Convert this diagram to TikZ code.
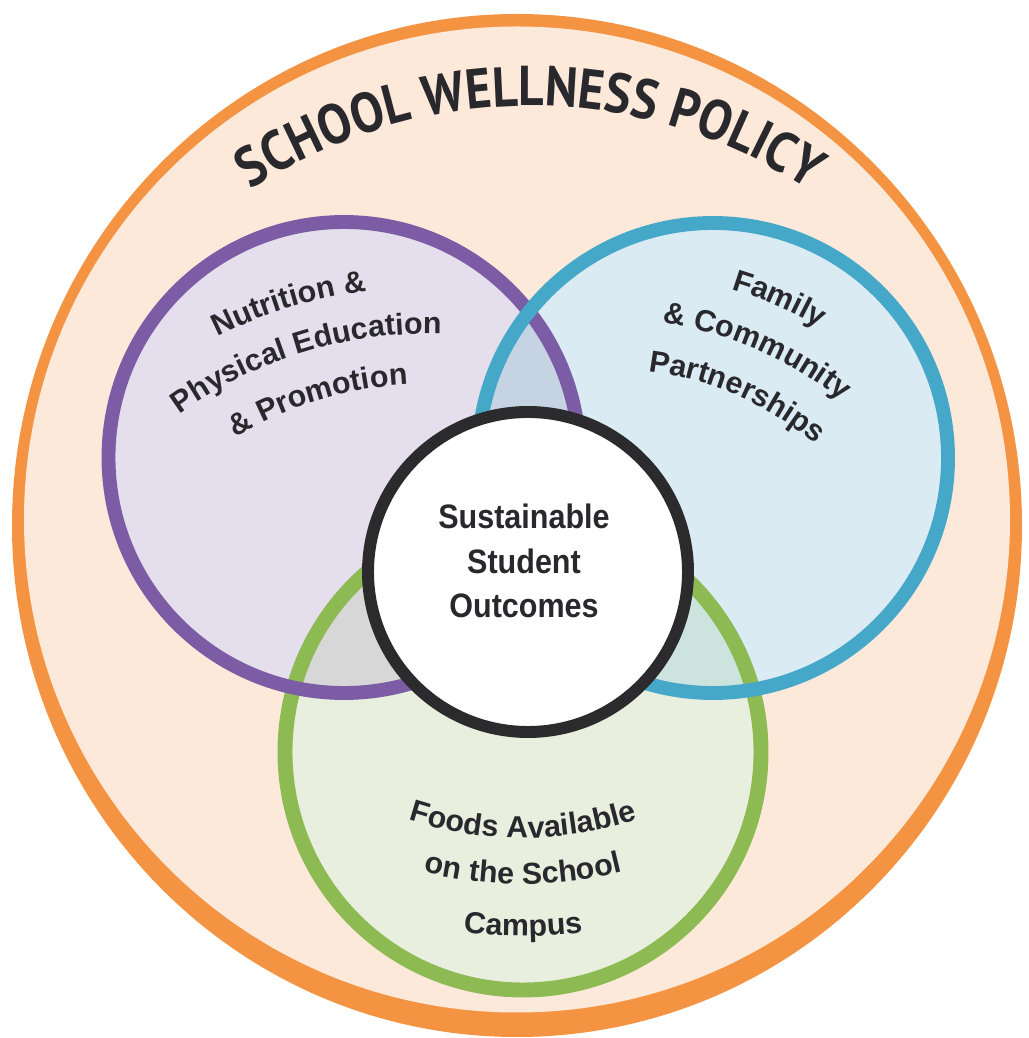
\documentclass[tikz,border=0pt]{standalone}
\usepackage{fontspec}
\usepackage{tikz}
\usetikzlibrary{calc}
\usetikzlibrary{decorations.text}

\newfontfamily\titrefont{PT Sans}[FakeStretch=0.88]
\newfontfamily\etiqfont{Liberation Sans}
\newfontfamily\centrefont{Liberation Sans}[FakeStretch=0.9]
\newcommand{\titre}{\titrefont\bfseries\fontsize{32pt}{32pt}\selectfont}
\newcommand{\etiq}{\etiqfont\bfseries\fontsize{17.3pt}{20pt}\selectfont}

\definecolor{contour}{RGB}{244,148,66}
\definecolor{fondpeche}{RGB}{253,233,218}
\definecolor{violetT}{RGB}{125,92,166}
\definecolor{violetF}{RGB}{229,222,237}
\definecolor{bleuT}{RGB}{69,168,201}
\definecolor{bleuF}{RGB}{218,235,244}
\definecolor{vertT}{RGB}{142,186,84}
\definecolor{vertF}{RGB}{233,239,223}
\definecolor{vb}{RGB}{197,211,226}
\definecolor{vv}{RGB}{215,215,216}
\definecolor{bv}{RGB}{205,227,222}
\definecolor{noirT}{RGB}{43,42,44}
\definecolor{texte}{RGB}{40,40,45}

\begin{document}
\begin{tikzpicture}[x=0.02cm,y=0.02cm,
    anneau/.style={line width=7.9pt},
    arcetiq/.style={decorate, decoration={text along path, text align=center, text color=texte}}]
                            % Cadre
                            \fill[white] (0,0) rectangle (1028,1038);
                            \useasboundingbox (0,0) rectangle (1028,1038);

                            % Centres des cercles
                            \coordinate (O) at (517,512.5);
                            \coordinate (Oi) at (517,518.5);
                            \coordinate (P) at (344,580.5);
                            \coordinate (B) at (713,580);
                            \coordinate (V) at (523,286);
                            \coordinate (S) at (528,466);

                            % Centres des arcs de texte
                            \coordinate (Ct) at (530,427);
                            \coordinate (Cv) at (427,283);
                            \coordinate (Cb) at (609,347);
                            \coordinate (Cg) at (523,568);

                            % Grand cercle orange
                            \fill[contour] (O) ellipse [x radius=505, y radius=511.5];
                            \fill[fondpeche] (Oi) circle [radius=493];

                            % Fonds des trois cercles
                            \fill[violetF] (P) circle [radius=235.5];
                            \fill[bleuF] (B) circle [radius=235];
                            \fill[vertF] (V) circle [radius=238];

                            % Zones communes
                            \begin{scope}
                                \clip (P) circle [radius=235.5];
                                \fill[vb] (B) circle [radius=235];
                                \fill[vv] (V) circle [radius=238];
                            \end{scope}
                            \begin{scope}
                                \clip (B) circle [radius=235];
                                \fill[bv] (V) circle [radius=238];
                            \end{scope}

                            % Anneaux
                            \draw[anneau, line width=8.5pt, vertT] (V) circle [radius=238];
                            \draw[anneau, violetT] (P) circle [radius=235.5];
                            \draw[anneau, bleuT] (B) circle [radius=235];
                            \draw[line width=6.8pt, noirT, fill=white] (S) circle [radius=160];

                            % Titre en arc
                            \path[arcetiq, decoration={text={|\titre|SCHOOL WELLNESS POLICY}}]
                                ($(Ct)+(155:505)$) arc [start angle=155, end angle=25, radius=505];

                            % Texte du cercle violet
                            \path[arcetiq, decoration={text={|\etiq|Nutrition {\&}}}]
                                ($(Cv)+(157:468)$) arc [start angle=157, end angle=57, radius=468];
                            \path[arcetiq, decoration={text={|\etiq|Physical Education}}]
                                ($(Cv)+(157:421)$) arc [start angle=157, end angle=57, radius=421];
                            \path[arcetiq, decoration={text={|\etiq|{\&} Promotion}}]
                                ($(Cv)+(157:371)$) arc [start angle=157, end angle=57, radius=371];

                            % Texte du cercle bleu
                            \path[arcetiq, decoration={text={|\etiq|Family}}]
                                ($(Cb)+(116.5:420)$) arc [start angle=116.5, end angle=16.5, radius=420];
                            \path[arcetiq, decoration={text={|\etiq|{\&} Community}}]
                                ($(Cb)+(116.5:372)$) arc [start angle=116.5, end angle=16.5, radius=372];
                            \path[arcetiq, decoration={text={|\etiq|Partnerships}}]
                                ($(Cb)+(116.5:322)$) arc [start angle=116.5, end angle=16.5, radius=322];

                            % Texte du cercle vert
                            \path[arcetiq, decoration={text={|\etiq|Foods Available}}]
                                ($(Cg)+(220:368)$) arc [start angle=220, end angle=320, radius=368];
                            \path[arcetiq, decoration={text={|\etiq|on the School}}]
                                ($(Cg)+(220:414)$) arc [start angle=220, end angle=320, radius=414];
                            \path[arcetiq, decoration={text={|\etiq|Campus}}]
                                ($(Cg)+(220:466)$) arc [start angle=220, end angle=320, radius=466];

                            % Texte central
                            \node[align=center, text=texte, font=\centrefont\bfseries\fontsize{19.3pt}{25.5pt}\selectfont]
                                (sso) at (524,477) {Sustainable\\Student\\Outcomes};

                        \end{tikzpicture}
\end{document}
